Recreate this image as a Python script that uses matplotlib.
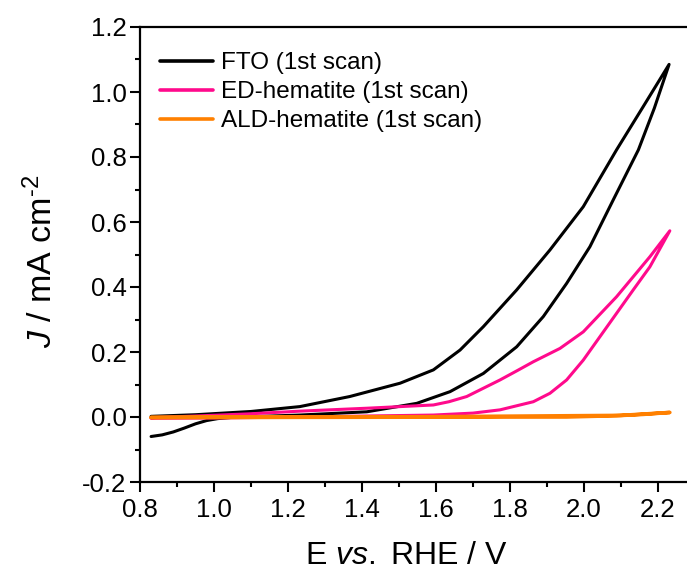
import matplotlib
matplotlib.use("Agg")
import matplotlib.pyplot as plt
from matplotlib.ticker import MultipleLocator, FormatStrFormatter

plt.rcParams['font.family'] = ['Liberation Sans', 'DejaVu Sans']
plt.rcParams['axes.unicode_minus'] = False
plt.rcParams['mathtext.fontset'] = 'custom'
plt.rcParams['mathtext.rm'] = 'Liberation Sans'
plt.rcParams['mathtext.it'] = 'Liberation Sans:italic'

labels = ["FTO (1st scan)", "ED-hematite (1st scan)", "ALD-hematite (1st scan)"]
colors = ["#000000", "#FF0A8C", "#FF8000"]

# FTO: forward scan then reverse scan
fto_E = [0.83, 0.86, 0.89, 0.92, 0.95, 0.98, 1.01, 1.05, 1.10, 1.232, 1.413, 1.548, 1.638, 1.728,
         1.818, 1.890, 1.953, 2.016, 2.079, 2.147, 2.19, 2.23,
         2.16, 2.088, 1.998, 1.908, 1.818, 1.728, 1.665, 1.593, 1.503, 1.367, 1.232, 1.10, 0.95, 0.83]
fto_J = [-0.060, -0.055, -0.046, -0.034, -0.021, -0.011, -0.005, -0.001, 0.001, 0.006, 0.016, 0.042, 0.078, 0.134,
         0.216, 0.309, 0.411, 0.524, 0.668, 0.822, 0.950, 1.085,
         0.955, 0.822, 0.647, 0.514, 0.391, 0.278, 0.206, 0.145, 0.104, 0.063, 0.032, 0.017, 0.007, 0.002]

# ED-hematite
ed_E = [0.83, 1.0, 1.232, 1.593, 1.70, 1.773, 1.863, 1.908, 1.953, 1.998, 2.043, 2.088, 2.133, 2.178, 2.232,
        2.178, 2.088, 1.998, 1.935, 1.863, 1.82, 1.773, 1.683, 1.635, 1.593, 1.413, 1.232, 1.10, 0.95, 0.83]
ed_J = [-0.004, -0.003, 0.000, 0.006, 0.012, 0.022, 0.047, 0.073, 0.114, 0.175, 0.247, 0.319, 0.391, 0.462, 0.573,
        0.493, 0.370, 0.262, 0.211, 0.170, 0.143, 0.114, 0.063, 0.047, 0.037, 0.027, 0.018, 0.010, 0.003, -0.002]

# ALD-hematite
ald_E = [0.83, 1.232, 1.953, 2.088, 2.16, 2.232, 2.10, 1.60, 1.00, 0.83]
ald_J = [-0.002, -0.001, 0.000, 0.004, 0.008, 0.014, 0.005, 0.001, 0.000, -0.001]

fig = plt.figure(figsize=(6.87, 5.71), dpi=100)
ax = fig.add_axes([140/687, 89/571, 547/687, 455/571])

ax.plot(fto_E, fto_J, color=colors[0], lw=2.2, label=labels[0], solid_joinstyle='round', solid_capstyle='round')
ax.plot(ed_E, ed_J, color=colors[1], lw=2.2, label=labels[1], solid_joinstyle='round', solid_capstyle='round')
ax.plot(ald_E, ald_J, color=colors[2], lw=2.6, label=labels[2], solid_joinstyle='round', solid_capstyle='round')

ax.set_xlim(0.8, 0.8 + 547/370)
ax.set_ylim(-0.2, 1.2)
ax.set_xticks([0.8, 1.0, 1.2, 1.4, 1.6, 1.8, 2.0, 2.2])
ax.xaxis.set_minor_locator(MultipleLocator(0.1))
ax.yaxis.set_major_locator(MultipleLocator(0.2))
ax.yaxis.set_minor_locator(MultipleLocator(0.1))
ax.xaxis.set_major_formatter(FormatStrFormatter('%.1f'))
ax.yaxis.set_major_formatter(FormatStrFormatter('%.1f'))

ax.spines['right'].set_visible(False)
for s in ['left', 'bottom', 'top']:
    ax.spines[s].set_linewidth(1.6)
ax.tick_params(which='major', direction='out', length=7.2, width=1.5, labelsize=18.5)
ax.tick_params(axis='x', which='major', pad=4)
ax.tick_params(axis='y', which='major', pad=2.5)
ax.tick_params(which='minor', direction='out', length=3.6, width=1.5)
ax.tick_params(top=False, right=False, which='both')

ax.set_xlabel("E $\\it{vs.}$ RHE / V", fontsize=23, va='baseline')
ax.xaxis.set_label_coords((406.7 - 140) / 547, (482 - 563.5) / 455)
ax.set_ylabel("$\\it{J}$ / mA cm$^{\\text{-}2}$", fontsize=24.5, va='center')
ax.yaxis.set_label_coords((42 - 140) / 547, 0.485)

leg = ax.legend(loc='upper left', bbox_to_anchor=(0.036, 0.944), frameon=False,
                fontsize=17.5, handlelength=2.18, handletextpad=0.36, labelspacing=0.28,
                borderpad=0, borderaxespad=0)
for line in leg.get_lines():
    line.set_linewidth(2.6)

fig.savefig("out.png", dpi=100)
